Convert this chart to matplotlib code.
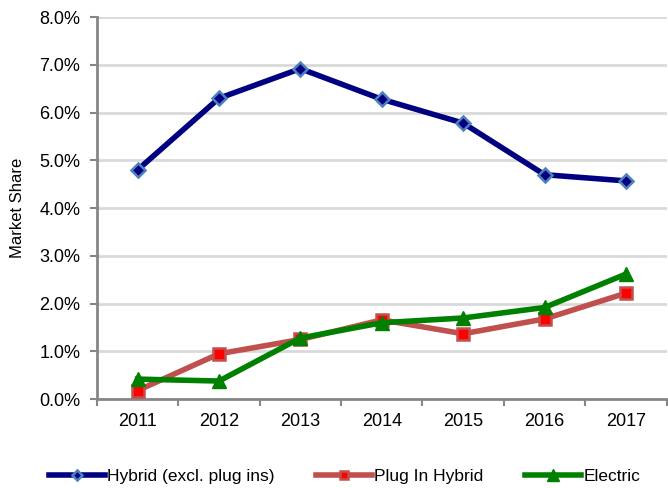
import numpy as np
import matplotlib.pyplot as plt
from matplotlib.ticker import PercentFormatter

plt.rcParams['font.family'] = ['Liberation Sans', 'DejaVu Sans']

# Data (market share, %)
years = ['2011', '2012', '2013', '2014', '2015', '2016', '2017']
hybrid = [4.80, 6.30, 6.92, 6.28, 5.78, 4.70, 4.57]
plug_in = [0.18, 0.95, 1.25, 1.66, 1.37, 1.68, 2.22]
electric = [0.42, 0.38, 1.28, 1.60, 1.70, 1.92, 2.62]

fig = plt.figure(figsize=(6.68, 4.88), dpi=100)
ax = fig.add_axes([0.145, 0.182, 0.853, 0.783])

x = np.arange(len(years))

ax.plot(x, hybrid, color='#000080', lw=4, marker='D', ms=7,
        mfc='#000080', mec='#4f81bd', mew=1.8, label='Hybrid (excl. plug ins)', zorder=3)
ax.plot(x, plug_in, color='#c0504d', lw=4, marker='s', ms=8,
        mfc='#ff0000', mec='#c0504d', mew=1.8, label='Plug In Hybrid', zorder=3)
ax.plot(x, electric, color='#008000', lw=4, marker='^', ms=10,
        mfc='#008000', mec='#008000', label='Electric', zorder=4)

# Axes formatting
ax.set_ylim(0, 8)
ax.set_xlim(-0.5, len(years) - 0.5)
ax.set_yticks(np.arange(0, 9, 1))
ax.yaxis.set_major_formatter(PercentFormatter(decimals=1))
ax.set_xticks(x)
ax.set_xticklabels(years)
ax.set_xticks(np.arange(-0.5, len(years), 1), minor=True)
ax.tick_params(axis='x', which='major', length=0, pad=10, labelsize=13)
ax.tick_params(axis='x', which='minor', length=5, width=1.5, color='#868686', direction='out')
ax.tick_params(axis='y', length=5, width=1.5, color='#868686', labelsize=13, pad=7)

ax.grid(axis='y', color='#d9d9d9', lw=2)
ax.set_axisbelow(True)
for s in ['top', 'right']:
    ax.spines[s].set_visible(False)
for s in ['left', 'bottom']:
    ax.spines[s].set_color('#868686')
    ax.spines[s].set_linewidth(2)

ax.set_ylabel('Market Share', fontsize=12, labelpad=10)

fig.legend(loc='center', bbox_to_anchor=(0.516, 0.023), ncol=3, frameon=False,
           fontsize=12.5, handlelength=3.2, columnspacing=2.4, handletextpad=0.15,
           markerscale=0.8)

fig.savefig('out.png', dpi=100)
